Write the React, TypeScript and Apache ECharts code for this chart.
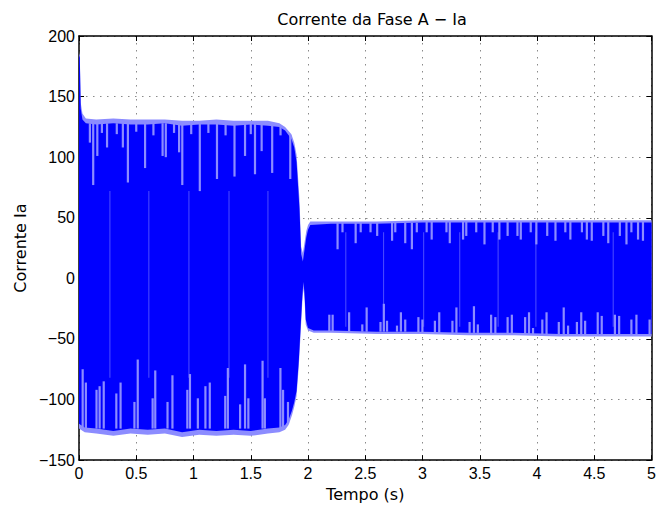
import React, { useEffect, useRef } from "react";
import * as echarts from "echarts";

// Envelope of the plotted current (time s, current A)
const upperOuter = [
  [0, 186], [0.007, 184], [0.015, 145], [0.03, 136], [0.06, 132], [0.15, 131], [0.3, 132], [0.45, 131],
  [0.6, 131], [0.75, 131], [0.9, 130], [1.05, 130], [1.2, 131], [1.35, 130], [1.5, 130], [1.65, 130],
  [1.75, 128], [1.8, 125], [1.855, 119], [1.88, 112], [1.9, 102], [1.925, 66], [1.94, 26], [1.955, 21],
  [1.97, 30], [1.985, 39], [2.0, 44], [2.02, 47], [2.2, 47], [2.6, 47], [3.0, 48], [3.4, 48], [3.8, 48],
  [4.2, 48], [4.6, 48], [5.0, 48],
];
const upperInner = [
  [0, 184], [0.007, 182], [0.015, 140], [0.03, 131], [0.06, 128], [0.15, 127], [0.3, 128], [0.45, 127],
  [0.6, 127], [0.75, 128], [0.9, 126], [1.05, 127], [1.2, 127], [1.35, 126], [1.5, 127], [1.65, 126],
  [1.75, 125], [1.8, 122], [1.855, 115], [1.88, 108], [1.9, 96], [1.925, 58], [1.94, 20], [1.955, 14],
  [1.97, 24], [1.985, 34], [2.0, 40], [2.02, 44], [2.2, 45], [2.6, 45], [3.0, 46], [3.4, 46], [3.8, 46],
  [4.2, 46], [4.6, 46], [5.0, 46],
];
const lowerOuter = [
  [0, -124], [0.05, -127], [0.15, -128], [0.3, -130], [0.45, -128], [0.6, -129], [0.75, -128], [0.9, -131],
  [1.05, -129], [1.2, -130], [1.35, -129], [1.5, -130], [1.65, -128], [1.75, -127], [1.8, -125],
  [1.83, -121], [1.86, -113], [1.88, -106], [1.9, -97], [1.92, -72], [1.935, -46], [1.95, -20], [1.96, -8],
  [1.97, -18], [1.98, -38], [2.0, -43], [2.05, -45], [2.2, -45], [2.6, -46], [3.0, -46], [3.4, -47],
  [3.8, -47], [4.2, -48], [4.6, -48], [5.0, -48],
];
const lowerInner = [
  [0, -120], [0.05, -123], [0.15, -124], [0.3, -126], [0.45, -124], [0.6, -125], [0.75, -124], [0.9, -127],
  [1.05, -125], [1.2, -126], [1.35, -125], [1.5, -126], [1.65, -124], [1.75, -123], [1.8, -121],
  [1.83, -117], [1.86, -109], [1.88, -102], [1.9, -93], [1.92, -67], [1.935, -41], [1.95, -15], [1.96, -3],
  [1.97, -13], [1.98, -34], [2.0, -41], [2.05, -43], [2.2, -43], [2.6, -44], [3.0, -44], [3.4, -45],
  [3.8, -45], [4.2, -46], [4.6, -46], [5.0, -46],
];

// Pale dips below the positive peaks: [time, dip bottom, peak]
const upperDips = [
  [0.095, 112, 128], [0.124, 77, 128], [0.16, 101, 128], [0.2, 120, 128], [0.245, 108, 128],
  [0.33, 119, 128], [0.383, 108, 128], [0.427, 79, 128], [0.5, 121, 128], [0.577, 91, 128],
  [0.65, 118, 128], [0.73, 101, 128], [0.758, 100, 128], [0.83, 120, 128], [0.874, 104, 128],
  [0.902, 77, 128], [0.98, 119, 128], [1.055, 72, 128], [1.13, 120, 128], [1.205, 82, 128],
  [1.28, 118, 128], [1.358, 84, 128], [1.45, 101, 128], [1.5, 119, 128], [1.537, 86, 128],
  [1.595, 105, 128], [1.687, 87, 127], [1.76, 118, 126], [1.845, 82, 118],
  [2.258, 24, 46], [2.301, 38, 46], [2.416, 29, 46], [2.46, 38, 46], [2.546, 38, 46], [2.604, 35, 46],
  [2.734, 31, 46], [2.762, 38, 46], [2.849, 29, 46], [2.907, 24, 46], [2.95, 38, 46], [3.036, 38, 47],
  [3.08, 32, 47], [3.209, 38, 47], [3.238, 29, 47], [3.354, 32, 47], [3.382, 35, 47], [3.469, 38, 47],
  [3.541, 28, 47], [3.613, 38, 47], [3.671, 32, 47], [3.743, 35, 47], [3.829, 35, 47], [3.858, 32, 47],
  [3.945, 38, 47], [3.994, 28, 47], [4.089, 35, 47], [4.161, 31, 47], [4.247, 38, 47], [4.291, 32, 47],
  [4.392, 38, 47], [4.435, 32, 47], [4.478, 31, 47], [4.579, 35, 47], [4.622, 29, 47], [4.723, 35, 47],
  [4.781, 28, 47], [4.824, 38, 47], [4.882, 32, 47], [4.925, 31, 47],
];

// Pale spikes above the negative peaks: [time, trough, spike top]
const lowerSpikes = [
  [0.032, -124, -75], [0.06, -124, -86], [0.153, -124, -92], [0.18, -124, -89], [0.216, -124, -85],
  [0.326, -124, -95], [0.363, -124, -86], [0.484, -124, -102], [0.513, -124, -67], [0.643, -124, -99],
  [0.666, -124, -76], [0.773, -124, -102], [0.816, -124, -80], [0.946, -124, -92], [0.969, -124, -79],
  [1.038, -124, -99], [1.104, -124, -89], [1.142, -124, -86], [1.277, -124, -97], [1.30, -124, -74],
  [1.407, -124, -104], [1.45, -124, -71], [1.479, -124, -99], [1.603, -124, -68], [1.623, -124, -99],
  [1.759, -124, -74], [1.782, -124, -92], [1.825, -120, -102],
  [2.186, -44, -30], [2.215, -44, -30], [2.359, -44, -28], [2.474, -44, -38], [2.512, -44, -24],
  [2.633, -44, -36], [2.662, -44, -21], [2.69, -44, -35], [2.777, -44, -39], [2.811, -44, -28],
  [2.849, -44, -34], [2.964, -45, -32], [2.999, -45, -34], [3.108, -45, -35], [3.146, -45, -28],
  [3.261, -45, -35], [3.296, -45, -24], [3.411, -45, -36], [3.449, -45, -23], [3.483, -45, -38],
  [3.599, -46, -30], [3.636, -46, -32], [3.743, -46, -32], [3.78, -46, -30], [3.896, -46, -32],
  [3.93, -46, -28], [3.965, -46, -41], [4.046, -46, -34], [4.083, -46, -28], [4.19, -46, -36],
  [4.233, -46, -24], [4.271, -46, -39], [4.348, -46, -36], [4.386, -46, -28], [4.42, -46, -35],
  [4.53, -47, -28], [4.565, -47, -31], [4.68, -47, -30], [4.717, -47, -31], [4.824, -47, -34],
  [4.868, -47, -30], [4.983, -47, -34],
];

// Faint full-height aliasing streaks: [time, bottom, top]
const streaks = [
  [0.27, -82, 72], [0.61, -82, 72], [0.96, -82, 72], [1.31, -82, 72], [1.65, -82, 72],
  [2.33, -40, 38], [2.66, -40, 38], [3.01, -40, 38], [3.325, -40, 38], [3.66, -40, 38],
  [3.99, -40, 38], [4.665, -40, 38],
];

const X_MIN = 0, X_MAX = 5, X_STEP = 0.5;
const Y_MIN = -150, Y_MAX = 200, Y_STEP = 50;

const BLUE = "#0000ff";
const PALE = "#8c8cff";
const TICK_FONT = "Liberation Sans, Arial, Helvetica, sans-serif";
const TEXT_FONT = "DejaVu Sans, sans-serif";

const fmt = (v: number) => String(v).replace("-", "\u2212");

function band(upper: number[][], lower: number[][], color: string, z: number) {
  return {
    type: "custom",
    data: [[0, 0]],
    silent: true,
    z,
    renderItem: (_p: any, api: any) => {
      const pts = upper.map((p) => api.coord(p)).concat(lower.slice().reverse().map((p) => api.coord(p)));
      return { type: "polygon", shape: { points: pts }, style: { fill: color } };
    },
  };
}

function bars(data: number[][], color: string, width: number, z: number) {
  return {
    type: "custom",
    data,
    silent: true,
    z,
    encode: { x: 0, y: [1, 2] },
    renderItem: (_p: any, api: any) => {
      const t = api.value(0);
      const a = api.coord([t, api.value(1)]);
      const b = api.coord([t, api.value(2)]);
      return {
        type: "rect",
        shape: { x: a[0] - width / 2, y: Math.min(a[1], b[1]), width, height: Math.abs(a[1] - b[1]) },
        style: { fill: color },
      };
    },
  };
}

export default function App() {
  const ref = useRef<HTMLDivElement>(null);
  useEffect(() => {
    const chart = echarts.init(ref.current!, null, { renderer: "svg" });
    const axisCommon = {
      axisLine: { show: true, onZero: false, lineStyle: { color: "#000", width: 1.5 } },
      axisTick: { show: true, inside: true, length: 5, lineStyle: { color: "#000", width: 1 } },
    };
    const gridLine = { show: true, lineStyle: { color: "#8a8a8a", width: 1, type: [1.5, 5.5] } };
    chart.setOption({
      animation: false,
      backgroundColor: "#fff",
      title: {
        text: "Corrente da Fase A \u2212 Ia",
        left: 367,
        top: 6,
        textAlign: "center",
        textStyle: { fontFamily: TEXT_FONT, fontSize: 16, fontWeight: "normal", color: "#000" },
      },
      grid: { left: 79, right: 2, top: 36, bottom: 46 },
      xAxis: [
        {
          type: "value", min: X_MIN, max: X_MAX, interval: X_STEP, position: "bottom",
          name: "Tempo (s)", nameLocation: "middle", nameGap: 24,
          nameTextStyle: { fontFamily: TEXT_FONT, fontSize: 16, color: "#000" },
          ...axisCommon,
          axisLabel: { formatter: fmt, fontFamily: TICK_FONT, fontSize: 16, color: "#000", margin: 5 },
          splitLine: gridLine,
        },
        {
          type: "value", min: X_MIN, max: X_MAX, interval: X_STEP, position: "top",
          ...axisCommon, axisLabel: { show: false }, splitLine: { show: false },
        },
      ],
      yAxis: [
        {
          type: "value", min: Y_MIN, max: Y_MAX, interval: Y_STEP, position: "left",
          name: "Corrente Ia", nameLocation: "middle", nameGap: 49,
          nameTextStyle: { fontFamily: TEXT_FONT, fontSize: 16, color: "#000" },
          ...axisCommon,
          axisLabel: { formatter: fmt, fontFamily: TICK_FONT, fontSize: 16, color: "#000", margin: 4 },
          splitLine: gridLine,
        },
        {
          type: "value", min: Y_MIN, max: Y_MAX, interval: Y_STEP, position: "right",
          ...axisCommon, axisLabel: { show: false }, splitLine: { show: false },
        },
      ],
      series: [
        band(upperOuter, lowerOuter, PALE, 2),
        band(upperInner, lowerInner, BLUE, 3),
        bars(streaks, "rgba(130,130,255,0.6)", 1, 4),
        bars(upperDips, PALE, 2.2, 5),
        bars(lowerSpikes, PALE, 2.2, 5),
      ],
    });
    return () => chart.dispose();
  }, []);
  return <div ref={ref} style={{ position: "fixed", left: 0, top: 0, width: 659, height: 507 }} />;
}
